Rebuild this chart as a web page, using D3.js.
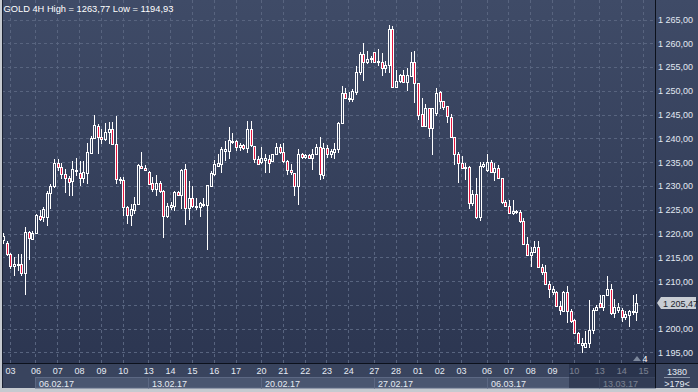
<!DOCTYPE html>
<html>
<head>
<meta charset="utf-8">
<script src="https://cdn.jsdelivr.net/npm/d3@7"></script>
<style>
  body { margin: 0; background: #c6cad0; }
  svg { display: block; }
  text { font-family: "Liberation Sans", Arial, sans-serif; }
</style>
</head>
<body>
<script>
// 4H candles, [open, high, low, close]
var candles = [
  [1218.6,1220.2,1217.9,1219.4],[1218.1,1218.5,1215.3,1215.7],[1215.7,1216.0,1212.5,1213.2],[1213.2,1215.0,1211.0,1213.5],
  [1213.4,1215.7,1212.2,1213.6],[1213.6,1215.7,1211.1,1211.7],[1211.8,1221.4,1207.1,1220.4],[1220.4,1220.6,1214.5,1219.0],
  [1218.8,1220.6,1218.7,1220.2],[1220.1,1224.1,1219.9,1223.9],[1223.7,1225.0,1222.7,1223.0],[1223.4,1225.5,1222.5,1225.1],
  [1223.4,1229.0,1221.6,1228.6],[1228.6,1230.4,1225.1,1230.0],[1230.0,1235.6,1229.5,1234.9],[1234.9,1235.6,1233.2,1233.9],
  [1233.9,1234.9,1231.4,1232.5],[1232.5,1233.5,1228.6,1231.6],[1231.7,1232.1,1227.9,1230.9],[1231.0,1235.3,1227.8,1233.5],
  [1233.1,1235.8,1232.1,1233.3],[1232.8,1235.3,1230.0,1231.6],[1231.7,1235.3,1230.6,1233.0],[1232.8,1239.1,1230.4,1237.2],
  [1237.0,1240.5,1236.7,1240.0],[1240.0,1244.9,1239.8,1242.8],[1242.6,1243.1,1236.7,1240.4],[1240.4,1241.9,1238.8,1239.8],
  [1239.8,1243.3,1239.5,1241.4],[1241.4,1243.5,1238.8,1241.9],[1241.9,1243.5,1238.7,1238.8],[1238.8,1244.7,1230.5,1231.4],
  [1231.4,1231.8,1230.5,1231.3],[1231.3,1231.8,1223.6,1225.5],[1225.5,1225.8,1222.1,1223.9],[1223.9,1226.2,1221.6,1225.1],
  [1225.0,1227.6,1224.1,1226.2],[1226.2,1234.6,1226.0,1234.4],[1234.3,1237.2,1233.7,1233.8],[1233.8,1234.4,1233.1,1233.4],
  [1233.0,1233.1,1230.4,1230.5],[1230.6,1231.8,1228.8,1229.3],[1229.3,1232.3,1227.9,1230.6],[1230.6,1231.1,1228.6,1229.0],
  [1229.0,1229.1,1219.0,1223.7],[1223.7,1226.5,1223.3,1225.8],[1225.5,1226.7,1225.0,1226.0],[1225.8,1229.0,1224.8,1228.8],
  [1228.7,1229.0,1228.1,1228.2],[1228.2,1233.5,1225.1,1233.3],[1233.5,1234.6,1221.8,1225.3],[1225.3,1231.1,1222.9,1227.4],
  [1227.4,1230.0,1225.3,1225.7],[1225.5,1227.4,1225.0,1225.8],[1225.5,1226.7,1223.5,1226.4],[1226.1,1227.4,1225.5,1226.3],
  [1226.1,1230.2,1216.6,1230.2],[1230.0,1233.2,1229.8,1232.7],[1232.5,1235.4,1232.0,1234.6],[1234.2,1236.8,1234.1,1234.8],
  [1234.6,1238.3,1232.8,1237.7],[1237.4,1239.5,1235.3,1237.7],[1237.4,1242.3,1235.6,1239.7],[1239.3,1241.2,1238.8,1239.5],
  [1239.5,1239.7,1237.4,1238.3],[1238.3,1239.1,1237.4,1238.6],[1238.6,1238.9,1237.5,1237.9],[1237.9,1243.7,1236.9,1241.9],
  [1241.9,1243.7,1238.3,1238.6],[1238.4,1238.5,1234.9,1235.6],[1235.6,1236.3,1234.4,1234.6],[1235.1,1238.1,1234.6,1235.8],
  [1235.5,1236.7,1232.8,1235.8],[1235.6,1236.5,1232.8,1234.8],[1235.2,1236.8,1235.1,1236.7],[1236.7,1239.1,1236.5,1238.1],
  [1238.1,1238.8,1236.8,1237.2],[1237.2,1239.1,1234.9,1235.3],[1235.3,1235.5,1232.3,1233.3],[1233.3,1234.6,1232.3,1233.0],
  [1232.8,1232.8,1227.9,1229.9],[1229.9,1237.7,1226.0,1236.7],[1236.7,1237.0,1235.6,1236.2],[1236.2,1236.8,1235.6,1236.5],
  [1236.5,1236.8,1235.6,1235.8],[1235.8,1237.7,1233.4,1236.7],[1236.7,1238.8,1236.5,1238.3],[1238.3,1240.3,1231.3,1232.5],
  [1232.4,1239.1,1231.4,1238.0],[1238.0,1238.6,1235.8,1236.8],[1236.7,1237.7,1235.8,1237.4],[1237.2,1239.0,1235.6,1237.8],
  [1237.7,1243.5,1237.0,1243.2],[1243.2,1251.0,1243.0,1249.5],[1249.5,1250.7,1248.4,1248.6],[1248.6,1249.8,1247.7,1248.2],
  [1248.2,1250.3,1247.7,1250.0],[1249.8,1255.2,1249.1,1254.0],[1254.0,1258.2,1253.3,1257.7],[1257.7,1260.0,1252.1,1256.1],
  [1256.1,1258.4,1255.6,1256.6],[1256.6,1257.3,1255.9,1257.0],[1258.1,1258.2,1255.8,1256.0],[1256.0,1258.9,1255.2,1256.3],
  [1256.1,1257.9,1253.2,1254.7],[1254.7,1256.3,1253.7,1255.4],[1255.4,1263.77,1253.7,1263.0],[1263.0,1263.6,1250.7,1250.9],
  [1250.9,1254.4,1250.7,1252.1],[1252.1,1253.5,1251.7,1253.3],[1253.3,1254.4,1251.7,1251.9],[1251.9,1254.7,1250.0,1253.3],
  [1253.2,1258.1,1253.0,1256.0],[1256.0,1258.4,1247.5,1251.6],[1251.6,1251.7,1243.9,1244.9],[1245.1,1248.4,1242.5,1242.7],
  [1242.7,1247.2,1242.3,1246.3],[1246.3,1246.3,1240.2,1242.1],[1242.1,1246.4,1236.5,1246.3],[1245.4,1250.5,1244.7,1249.6],
  [1249.7,1250.0,1246.1,1247.9],[1247.9,1247.9,1246.0,1246.7],[1246.8,1246.8,1243.3,1244.7],[1244.4,1245.1,1240.0,1240.3],
  [1240.3,1240.4,1234.4,1236.8],[1236.8,1237.2,1230.7,1234.9],[1234.9,1236.3,1233.5,1233.7],[1233.7,1234.9,1231.3,1234.0],
  [1234.0,1234.1,1225.2,1226.5],[1226.5,1229.2,1225.7,1228.3],[1228.3,1231.6,1223.0,1223.5],[1223.5,1235.1,1222.6,1234.2],
  [1234.2,1235.1,1233.7,1234.7],[1233.3,1236.8,1233.0,1235.1],[1235.1,1235.4,1232.8,1233.0],[1233.0,1234.8,1231.0,1233.7],
  [1233.7,1234.4,1231.4,1231.6],[1231.6,1231.6,1226.3,1226.6],[1226.6,1227.1,1225.7,1225.8],[1225.8,1227.1,1224.2,1224.3],
  [1224.4,1227.0,1223.8,1224.8],[1224.5,1225.0,1224.2,1224.8],[1224.6,1225.0,1222.3,1222.6],[1222.7,1223.3,1217.7,1217.8],
  [1217.8,1219.2,1215.2,1215.4],[1215.4,1217.2,1213.0,1216.1],[1216.1,1218.4,1215.9,1217.2],[1217.2,1218.4,1212.8,1213.0],
  [1213.0,1213.5,1211.2,1211.9],[1211.9,1213.3,1209.4,1209.5],[1209.5,1210.0,1206.5,1208.4],[1207.7,1208.9,1207.0,1208.4],
  [1207.7,1207.9,1204.6,1204.7],[1204.7,1205.8,1202.8,1203.9],[1203.7,1207.9,1203.5,1207.7],[1207.7,1208.9,1201.2,1203.7],
  [1203.7,1204.2,1201.1,1201.6],[1201.8,1202.1,1198.8,1199.1],[1199.1,1199.3,1196.7,1196.9],[1196.5,1198.1,1194.93,1196.9],
  [1196.2,1199.5,1196.0,1197.0],[1196.9,1206.1,1196.0,1199.7],[1199.7,1204.4,1198.8,1204.0],[1204.0,1204.9,1203.9,1204.5],
  [1205.3,1207.0,1204.6,1204.6],[1204.6,1207.0,1203.7,1207.0],[1207.0,1211.0,1206.8,1208.4],[1208.4,1209.5,1202.8,1203.2],
  [1203.2,1206.3,1202.3,1204.6],[1204.0,1205.4,1203.3,1204.6],[1204.0,1204.4,1201.4,1202.5],[1202.5,1203.7,1201.8,1203.0],
  [1202.8,1204.0,1200.4,1203.7],[1203.5,1207.0,1202.8,1203.7],[1203.5,1207.4,1201.6,1205.47]
];

var priceTicks = [1195, 1200, 1205, 1210, 1215, 1220, 1225, 1230, 1235, 1240, 1245, 1250, 1255, 1260, 1265];

// day labels and the candle index where each day starts
var dayLabels = ["03","06","07","08","09","10","13","14","15","16","17","20","21","22","23","24",
                 "27","28","01","02","03","06","07","08","09","10","13","14","15"];
var dayStart  = [2, 9, 15, 21, 27, 33, 40, 46, 52, 58, 64, 71, 77, 83, 89, 95,
                 102, 108, 114, 120, 126, 133, 139, 145, 151, 157, 164, 170, 176];

var weekLabels = ["06.02.17", "13.02.17", "20.02.17", "27.02.17", "06.03.17", "13.03.17"];
var weekStart  = [9, 40, 71, 102, 133, 164];

var lastPrice = 1205.47;
var title = "GOLD 4H High = 1263,77 Low = 1194,93";

var W = 698, H = 392;
var plotL = 2, plotR = 655, plotB = 363, axisB = 388;

var svg = d3.select("body").append("svg")
    .attr("width", W)
    .attr("height", H);

var defs = svg.append("defs");
var grad = defs.append("linearGradient")
    .attr("id", "bg")
    .attr("x1", 0).attr("y1", 0).attr("x2", 0).attr("y2", 1);
grad.append("stop").attr("offset", "0%").attr("stop-color", "#3f4b67");
grad.append("stop").attr("offset", "100%").attr("stop-color", "#2c3651");

var x = d3.scaleLinear().domain([0, candles.length - 1]).range([3.2, 636.2]);
var y = d3.scaleLinear().domain([1192.79, 1269.1]).range([plotB, 0]);

function gx(i) { return Math.round(x(i) - 0.5) + 0.5; }
function gy(p) { return Math.round(y(p)) + 0.5; }

// panels
svg.append("rect")
    .attr("x", plotL).attr("y", 0)
    .attr("width", W - plotL).attr("height", plotB)
    .attr("fill", "url(#bg)");

svg.append("rect")
    .attr("x", plotL).attr("y", plotB)
    .attr("width", W - plotL).attr("height", axisB - plotB)
    .attr("fill", "#39445e");

// grid
var grid = svg.append("g")
    .attr("stroke", "#58647f")
    .attr("stroke-width", 1)
    .attr("stroke-dasharray", "3,3");

grid.selectAll(".h")
    .data(priceTicks)
    .enter().append("line")
    .attr("x1", plotL).attr("x2", plotR)
    .attr("y1", gy).attr("y2", gy);

grid.selectAll(".v")
    .data(dayStart)
    .enter().append("line")
    .attr("x1", gx).attr("x2", gx)
    .attr("y1", 0).attr("y2", plotB);

// candles
var cg = svg.append("g");

candles.forEach(function(d, i) {
    var o = d[0], h = d[1], l = d[2], c = d[3];
    var px = Math.round(x(i));
    var top = Math.round(y(Math.max(o, c)));
    var bot = Math.round(y(Math.min(o, c)));
    if (bot - top < 1) bot = top + 1;
    var yh = Math.round(y(h)), yl = Math.round(y(l));

    cg.append("line")
        .attr("x1", px + 0.5).attr("x2", px + 0.5)
        .attr("y1", yh).attr("y2", top)
        .attr("stroke", "#fff");
    cg.append("line")
        .attr("x1", px + 0.5).attr("x2", px + 0.5)
        .attr("y1", bot).attr("y2", yl)
        .attr("stroke", "#fff");

    cg.append("rect")
        .attr("x", px - 0.5)
        .attr("y", top + 0.5)
        .attr("width", 2)
        .attr("height", bot - top)
        .attr("fill", c < o ? "#e5163f" : "none")
        .attr("stroke", "#fff")
        .attr("stroke-width", 1);
});

// title
svg.append("text")
    .attr("x", 3.5).attr("y", 12)
    .attr("fill", "#ffffff")
    .style("font-size", "9.3px")
    .text(title);

// right axis (the label under the last price tag is hidden, as in the terminal)
var fmt = d3.formatLocale({decimal: ",", thousands: " ", grouping: [3], currency: ["", ""]}).format(",.2f");

var yAxis = svg.append("g")
    .attr("transform", "translate(" + plotR + ",0)")
    .call(d3.axisRight(y)
        .tickValues(priceTicks.filter(function(p) { return Math.abs(p - lastPrice) > 2.5; }))
        .tickFormat(fmt).tickSize(0).tickPadding(3));
yAxis.select(".domain").remove();
yAxis.selectAll("text")
    .attr("fill", "#e2e8f2")
    .style("font-size", "9px")
    .style("font-family", "'Liberation Sans', Arial, sans-serif");

// last price tag
var ty = gy(lastPrice) - 0.5;
svg.append("path")
    .attr("d", "M657," + ty + "L661," + (ty - 6) + "H696V" + (ty + 6) + "H661Z")
    .attr("fill", "#c8cdd4");
svg.append("text")
    .attr("x", 663).attr("y", ty + 3.5)
    .attr("fill", "#20242c")
    .style("font-size", "9px")
    .text(fmt(lastPrice));

// small marker at bottom right of plot
svg.append("path")
    .attr("d", "M633,361L637,356L641,361Z")
    .attr("fill", "#7d889c");
svg.append("text")
    .attr("x", 645).attr("y", 361.5)
    .attr("text-anchor", "middle")
    .attr("fill", "#ffffff")
    .style("font-size", "9px")
    .text("4");

// week boxes
var wg = svg.append("g");
weekStart.forEach(function(s, i) {
    var x0 = gx(s);
    var x1 = i + 1 < weekStart.length ? gx(weekStart[i + 1]) : plotR + 0.5;
    wg.append("rect")
        .attr("x", x0).attr("y", 377.5)
        .attr("width", x1 - x0).attr("height", axisB - 377.5)
        .attr("fill", "#4a5670")
        .attr("stroke", "#5c6883");
    wg.append("text")
        .attr("x", x0 + 3.5).attr("y", 386.5)
        .attr("fill", "#e6ebf3")
        .style("font-size", "9px")
        .text(weekLabels[i]);
});

// day axis
var xAxis = svg.append("g")
    .attr("transform", "translate(-0.5," + plotB + ")")
    .call(d3.axisBottom(x).tickValues(dayStart).tickFormat(function(d, i) { return dayLabels[i]; }).tickSize(0).tickPadding(5));
xAxis.select(".domain").remove();
xAxis.selectAll("text")
    .attr("fill", "#e6ebf3")
    .style("font-size", "9px")
    .style("font-family", "'Liberation Sans', Arial, sans-serif");

// dimmed area of the current week
svg.append("rect")
    .attr("x", 569).attr("y", plotB + 1)
    .attr("width", plotR - 569).attr("height", axisB - plotB - 1)
    .attr("fill", "#1f2840")
    .attr("fill-opacity", 0.55);

// bottom right info box
svg.append("text")
    .attr("x", 677).attr("y", 374.5)
    .attr("text-anchor", "middle")
    .attr("fill", "#e6ebf3")
    .style("font-size", "9px")
    .text("1380");
svg.append("line")
    .attr("x1", 664).attr("x2", 690)
    .attr("y1", 377.5).attr("y2", 377.5)
    .attr("stroke", "#8a95a8");
svg.append("text")
    .attr("x", 677).attr("y", 386.5)
    .attr("text-anchor", "middle")
    .attr("fill", "#e6ebf3")
    .style("font-size", "9px")
    .text(">179<");

// frame lines
svg.append("line")
    .attr("x1", plotL).attr("x2", W)
    .attr("y1", plotB + 0.5).attr("y2", plotB + 0.5)
    .attr("stroke", "#0c111c");
svg.append("line")
    .attr("x1", plotR + 0.5).attr("x2", plotR + 0.5)
    .attr("y1", 0).attr("y2", axisB)
    .attr("stroke", "#0c111c");
svg.append("line")
    .attr("x1", plotL + 0.5).attr("x2", plotL + 0.5)
    .attr("y1", 0).attr("y2", axisB)
    .attr("stroke", "#1a2132");
</script>
</body>
</html>
